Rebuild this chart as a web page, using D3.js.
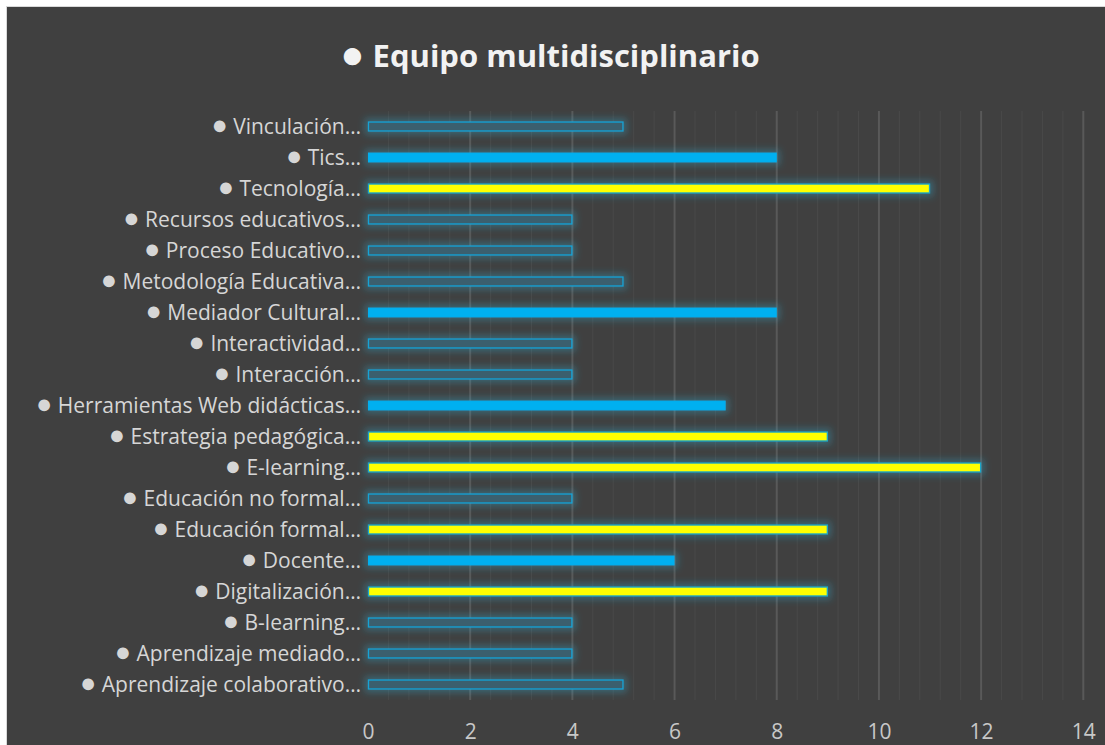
<!DOCTYPE html>
<html>
<head>
  <script src="https://cdnjs.cloudflare.com/ajax/libs/d3/7.8.5/d3.min.js"></script>
  <style>
    body, html { margin: 0; padding: 0; background: #fff; }
    svg { display: block; }
    text { font-family: "Open Sans", "Noto Sans", sans-serif; }
  </style>
</head>
<body>
<div id="chart"></div>
<script>
// categories top to bottom, as shown
const categories = [
  "Vinculación", "Tics", "Tecnología", "Recursos educativos", "Proceso Educativo",
  "Metodología Educativa", "Mediador Cultural", "Interactividad", "Interacción",
  "Herramientas Web didácticas", "Estrategia pedagógica", "E-learning",
  "Educación no formal", "Educación formal", "Docente", "Digitalización",
  "B-learning", "Aprendizaje mediado", "Aprendizaje colaborativo"
];
const values = [5, 8, 11, 4, 4, 5, 8, 4, 4, 7, 9, 12, 4, 9, 6, 9, 4, 4, 5];
const xTicks = [0, 2, 4, 6, 8, 10, 12, 14];
const title = "Equipo multidisciplinario";

const W = 1105, H = 745;
const margin = { left: 368, right: 22, top: 111, bottom: 45 };

const svg = d3.select("#chart").append("svg")
  .attr("width", W).attr("height", H);

// chart area background
svg.append("rect").attr("x", 7).attr("y", 7).attr("width", W).attr("height", H)
  .attr("fill", "#404040");
svg.append("line").attr("x1", 6.5).attr("x2", 6.5).attr("y1", 6).attr("y2", H)
  .attr("stroke", "#d9d9d9").attr("stroke-width", 1);
svg.append("line").attr("x1", 6).attr("x2", W).attr("y1", 6.5).attr("y2", 6.5)
  .attr("stroke", "#d9d9d9").attr("stroke-width", 1);

const defs = svg.append("defs");
const glow = defs.append("filter").attr("id", "glow")
  .attr("x", "-20%").attr("y", "-200%").attr("width", "140%").attr("height", "500%");
glow.append("feMorphology").attr("in", "SourceAlpha").attr("operator", "dilate").attr("radius", 3).attr("result", "dil");
glow.append("feGaussianBlur").attr("in", "dil").attr("stdDeviation", 3.5).attr("result", "blur");
glow.append("feFlood").attr("flood-color", "#2fb6e0").attr("flood-opacity", 0.32);
glow.append("feComposite").attr("in2", "blur").attr("operator", "in").attr("result", "g");
const merge = glow.append("feMerge");
merge.append("feMergeNode").attr("in", "g");
merge.append("feMergeNode").attr("in", "SourceGraphic");

const x = d3.scaleLinear().domain([0, 14]).range([margin.left, 1083.3]);
const y = d3.scaleBand().domain(categories)
  .range([margin.top, H - margin.bottom]).paddingInner(0.68).paddingOuter(0.34);

const style = d3.scaleThreshold().domain([6, 9]).range(["outline", "blue", "yellow"]);

// minor gridlines
svg.append("g").selectAll("line")
  .data(d3.range(0, 14.01, 0.4).filter(v => Math.abs(v / 2 - Math.round(v / 2)) > 0.01))
  .join("line")
  .attr("x1", d => x(d)).attr("x2", d => x(d))
  .attr("y1", margin.top).attr("y2", H - margin.bottom)
  .attr("stroke", "#494949").attr("stroke-width", 1);

// major gridlines
svg.append("g").selectAll("line").data(xTicks.filter(d => d > 0)).join("line")
  .attr("x1", d => x(d)).attr("x2", d => x(d))
  .attr("y1", margin.top).attr("y2", H - margin.bottom)
  .attr("stroke", "#595959").attr("stroke-width", 2);

// bars
const bars = svg.append("g");
categories.forEach((c, i) => {
  const v = values[i];
  const s = style(v);
  const r = bars.append("rect")
    .attr("x", x(0) + 0.5)
    .attr("y", y(c) + 0.5)
    .attr("width", x(v) - x(0) - 1)
    .attr("height", y.bandwidth() - 1)
    .attr("filter", "url(#glow)");
  if (s === "outline") {
    r.attr("fill", "#3b5f6e").attr("stroke", "#14a3d6").attr("stroke-width", 1.3);
  } else if (s === "blue") {
    r.attr("fill", "#00b0f0").attr("stroke", "#00b0f0").attr("stroke-width", 1);
  } else {
    r.attr("fill", "#ffff00").attr("stroke", "#1aa7c9").attr("stroke-width", 1.3);
  }
});

// y labels (bullet drawn a bit larger, like the original font)
const labels = svg.append("g").selectAll("text").data(categories).join("text")
  .attr("x", margin.left - 7)
  .attr("y", d => y(d) + y.bandwidth() / 2 + 7.5)
  .attr("text-anchor", "end")
  .attr("fill", "#d6d6d6")
  .attr("font-size", 21);
labels.append("tspan").attr("font-size", 27).text("●");
labels.append("tspan").text(d => " " + d + "…");

// x axis labels
const xAxis = d3.axisBottom(x).tickValues(xTicks).tickSize(0).tickPadding(0);
const gx = svg.append("g").attr("transform", `translate(0,${H - 6})`).call(xAxis);
gx.select(".domain").remove();
gx.selectAll("text").attr("fill", "#c8c8c8").attr("font-size", 21)
  .attr("font-family", "'Open Sans', sans-serif")
  .attr("y", 0).attr("dy", "0em");

// title
const t = svg.append("text")
  .attr("x", 550).attr("y", 67)
  .attr("text-anchor", "middle")
  .attr("fill", "#f2f2f2")
  .attr("font-size", 31)
  .attr("font-weight", "bold");
t.append("tspan").attr("font-size", 40).attr("dy", 1).text("●");
t.append("tspan").attr("dy", -1).text(" " + title);
</script>
</body>
</html>
